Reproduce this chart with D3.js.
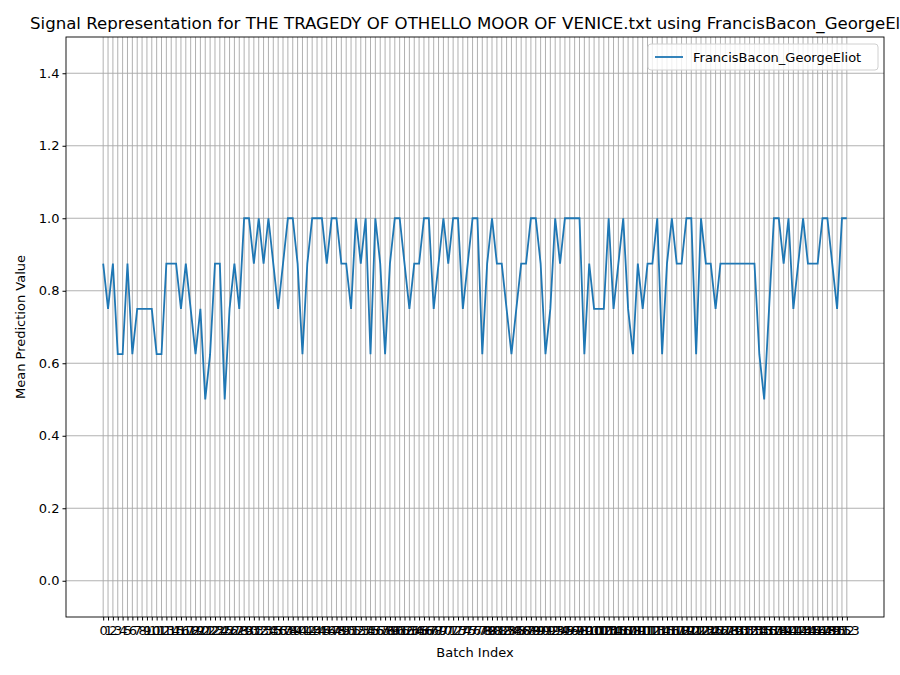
<!DOCTYPE html>
<html>
<head>
<meta charset="utf-8">
<script src="https://cdn.jsdelivr.net/npm/d3@7"></script>
<style>
  body { margin: 0; background: #fff; }
  text { font-family: "DejaVu Sans", sans-serif; }
</style>
</head>
<body>
<div id="chart"></div>
<script>
var svgWidth = 900;
var svgHeight = 675;

var margin = { top: 37, right: 16, bottom: 58, left: 66 };
var width = svgWidth - margin.left - margin.right;
var height = svgHeight - margin.top - margin.bottom;

var titleText = "Signal Representation for THE TRAGEDY OF OTHELLO MOOR OF VENICE.txt using FrancisBacon_GeorgeEliot";
var seriesName = "FrancisBacon_GeorgeEliot";
var yTicks = [0.0, 0.2, 0.4, 0.6, 0.8, 1.0, 1.2, 1.4];

// mean prediction per batch
var values = [
  0.875, 0.75, 0.875, 0.625, 0.625, 0.875, 0.625, 0.75, 0.75, 0.75,
  0.75, 0.625, 0.625, 0.875, 0.875, 0.875, 0.75, 0.875, 0.75, 0.625,
  0.75, 0.5, 0.625, 0.875, 0.875, 0.5, 0.75, 0.875, 0.75, 1.0,
  1.0, 0.875, 1.0, 0.875, 1.0, 0.875, 0.75, 0.875, 1.0, 1.0,
  0.875, 0.625, 0.875, 1.0, 1.0, 1.0, 0.875, 1.0, 1.0, 0.875,
  0.875, 0.75, 1.0, 0.875, 1.0, 0.625, 1.0, 0.875, 0.625, 0.875,
  1.0, 1.0, 0.875, 0.75, 0.875, 0.875, 1.0, 1.0, 0.75, 0.875,
  1.0, 0.875, 1.0, 1.0, 0.75, 0.875, 1.0, 1.0, 0.625, 0.875,
  1.0, 0.875, 0.875, 0.75, 0.625, 0.75, 0.875, 0.875, 1.0, 1.0,
  0.875, 0.625, 0.75, 1.0, 0.875, 1.0, 1.0, 1.0, 1.0, 0.625,
  0.875, 0.75, 0.75, 0.75, 1.0, 0.75, 0.875, 1.0, 0.75, 0.625,
  0.875, 0.75, 0.875, 0.875, 1.0, 0.625, 0.875, 1.0, 0.875, 0.875,
  1.0, 1.0, 0.625, 1.0, 0.875, 0.875, 0.75, 0.875, 0.875, 0.875,
  0.875, 0.875, 0.875, 0.875, 0.875, 0.625, 0.5, 0.75, 1.0, 1.0,
  0.875, 1.0, 0.75, 0.875, 1.0, 0.875, 0.875, 0.875, 1.0, 1.0,
  0.875, 0.75, 1.0, 1.0
];
var batchIndex = values.map(function(v, i) { return i; });

var svg = d3.select("#chart").append("svg")
  .attr("width", svgWidth)
  .attr("height", svgHeight);

var chartGroup = svg.append("g")
  .attr("transform", `translate(${margin.left}, ${margin.top})`);

var n = values.length - 1;
var xScale = d3.scaleLinear()
  .domain([-0.05 * n, n * 1.05])
  .range([0, width]);

var yScale = d3.scaleLinear()
  .domain([-0.1, 1.5])
  .range([height, 0]);

// grid
chartGroup.append("g").selectAll("line")
  .data(batchIndex).enter().append("line")
  .attr("x1", d => xScale(d)).attr("x2", d => xScale(d))
  .attr("y1", 0).attr("y2", height)
  .attr("stroke", "#a8a8a8").attr("stroke-width", 0.9);

chartGroup.append("g").selectAll("line")
  .data(yTicks).enter().append("line")
  .attr("x1", 0).attr("x2", width)
  .attr("y1", d => yScale(d)).attr("y2", d => yScale(d))
  .attr("stroke", "#a8a8a8").attr("stroke-width", 0.9);

// axes
var bottomAxis = d3.axisBottom(xScale).tickValues(batchIndex).tickFormat(d3.format("d")).tickSizeOuter(0).tickSize(3.5);
var leftAxis = d3.axisLeft(yScale).tickValues(yTicks).tickFormat(d3.format(".1f")).tickSizeOuter(0).tickSize(3.5);

var gx = chartGroup.append("g")
  .attr("transform", `translate(0, ${height})`)
  .call(bottomAxis);
var gy = chartGroup.append("g").call(leftAxis);

[gx, gy].forEach(function(g) {
  g.select(".domain").remove();
  g.selectAll("text").attr("font-size", 13).attr("fill", "#000").attr("font-family", "DejaVu Sans");
  g.selectAll(".tick line").attr("stroke", "#000");
});
gx.selectAll("text").attr("dy", "0.9em");

// line
var line = d3.line()
  .x((d, i) => xScale(i))
  .y(d => yScale(d));

chartGroup.append("path")
  .datum(values)
  .attr("fill", "none")
  .attr("stroke", "#1f77b4")
  .attr("stroke-width", 1.8)
  .attr("d", line);

// frame
chartGroup.append("rect")
  .attr("width", width).attr("height", height)
  .attr("fill", "none").attr("stroke", "#000").attr("stroke-width", 0.9);

// legend
var legend = chartGroup.append("g").attr("transform", `translate(${width - 236}, 7)`);
legend.append("rect")
  .attr("width", 230).attr("height", 26).attr("rx", 3)
  .attr("fill", "#fff").attr("fill-opacity", 0.8)
  .attr("stroke", "#d0d0d0");
legend.append("line")
  .attr("x1", 7).attr("x2", 35).attr("y1", 13).attr("y2", 13)
  .attr("stroke", "#1f77b4").attr("stroke-width", 1.8);
legend.append("text")
  .attr("x", 45).attr("y", 17.5)
  .attr("font-size", 13)
  .text(seriesName);

// labels
svg.append("text")
  .attr("x", 30).attr("y", 29)
  .attr("font-size", 16.6)
  .text(titleText);

svg.append("text")
  .attr("transform", `translate(${margin.left + width / 2}, 657)`)
  .attr("text-anchor", "middle")
  .attr("font-size", 13)
  .text("Batch Index");

svg.append("text")
  .attr("transform", `translate(25, ${margin.top + height / 2}) rotate(-90)`)
  .attr("text-anchor", "middle")
  .attr("font-size", 13)
  .text("Mean Prediction Value");
</script>
</body>
</html>
